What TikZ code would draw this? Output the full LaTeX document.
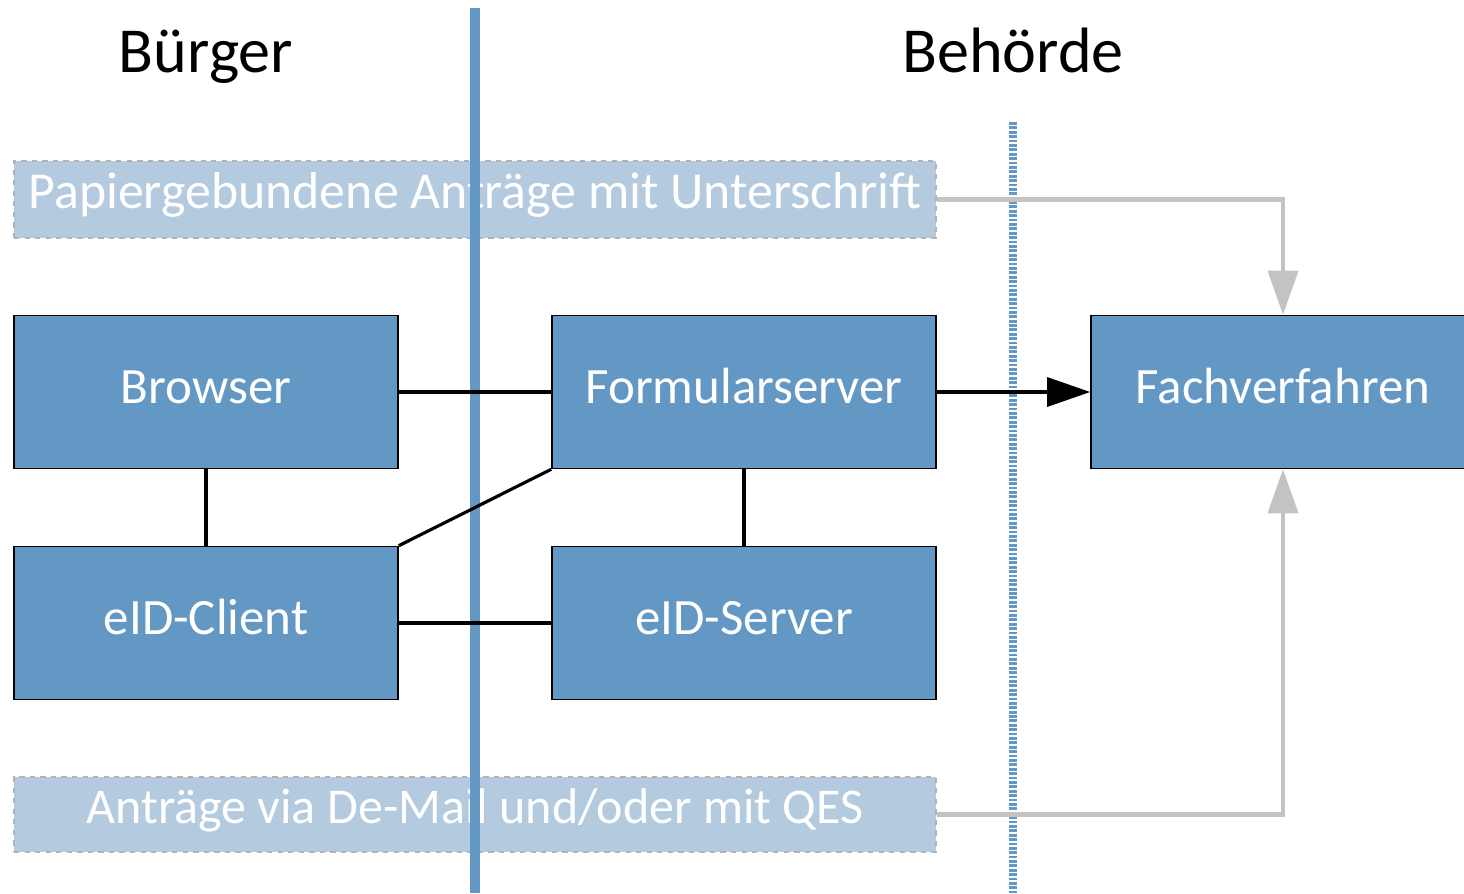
\documentclass[tikz,border=0pt]{standalone}
\usepackage{fontspec}
\setmainfont{Carlito}
\usetikzlibrary{arrows.meta}

\definecolor{boxblue}{HTML}{6498C4}
\definecolor{paleblue}{HTML}{B3CADF}
\definecolor{lanegray}{HTML}{C3C3C3}

\tikzset{
    sysbox/.style={draw=black, line width=0.9pt, fill=boxblue, text=white,
        minimum width=7.68cm, minimum height=3.06cm, inner sep=0pt,
        text height=20pt, text depth=7pt, font=\fontsize{29}{33}\selectfont},
    paperbox/.style={draw=gray!60, dashed, line width=0.6pt, fill=paleblue, text=white,
        minimum width=18.44cm, inner sep=0pt, text height=20pt, text depth=10pt,
        font=\fontsize{29.5}{33}\selectfont},
    link/.style={line width=1.8pt},
    greylink/.style={line width=2.3pt, lanegray, -{Triangle[length=0.88cm, width=0.6cm]}},
    sidelabel/.style={font=\fontsize{36.5}{40}\selectfont, inner sep=0pt, anchor=base}
}

\begin{document}
\begin{tikzpicture}
    \useasboundingbox (0, 0) rectangle (29.28, -17.86);

    % Side labels
    \node[sidelabel] (buerger) at (4.12, -1.44) {Bürger};
    \node[sidelabel] (behoerde) at (20.26, -1.44) {Behörde};

    % Paper and mail requests
    \node[paperbox, minimum height=1.54cm] (papier) at (9.5, -3.99) {Papiergebundene Anträge mit Unterschrift};
    \node[paperbox, minimum height=1.5cm, font=\fontsize{28.5}{33}\selectfont] (demail) at (9.5, -16.29) {Anträge via De-Mail und/oder mit QES};

    % Boundary lines
    \draw[boxblue, line width=5.6pt] (9.5, -0.16) -- (9.5, -17.86);
    \draw[boxblue, line width=5pt, dash pattern=on 1.6pt off 0.9pt] (20.26, -2.44) -- (20.26, -17.86);

    % Systems
    \node[sysbox] (browser) at (4.12, -7.84) {Browser};
    \node[sysbox] (client) at (4.12, -12.46) {eID-Client};
    \node[sysbox] (formular) at (14.88, -7.84) {Formularserver};
    \node[sysbox] (server) at (14.88, -12.46) {eID-Server};
    \node[sysbox] (fach) at (25.66, -7.84) {Fachverfahren};

    % Connections
    \draw[link] (browser) -- (formular);
    \draw[link] (browser) -- (client);
    \draw[link] (client.north east) -- (formular.south west);
    \draw[link] (client) -- (server);
    \draw[link] (formular) -- (server);
    \draw[link, -{Triangle[length=0.86cm, width=0.58cm]}] (formular) -- (fach);

    % Incoming requests
    \draw[greylink] (papier.east) -| (fach.north);
    \draw[greylink] (demail.east) -| (fach.south);
\end{tikzpicture}
\end{document}
